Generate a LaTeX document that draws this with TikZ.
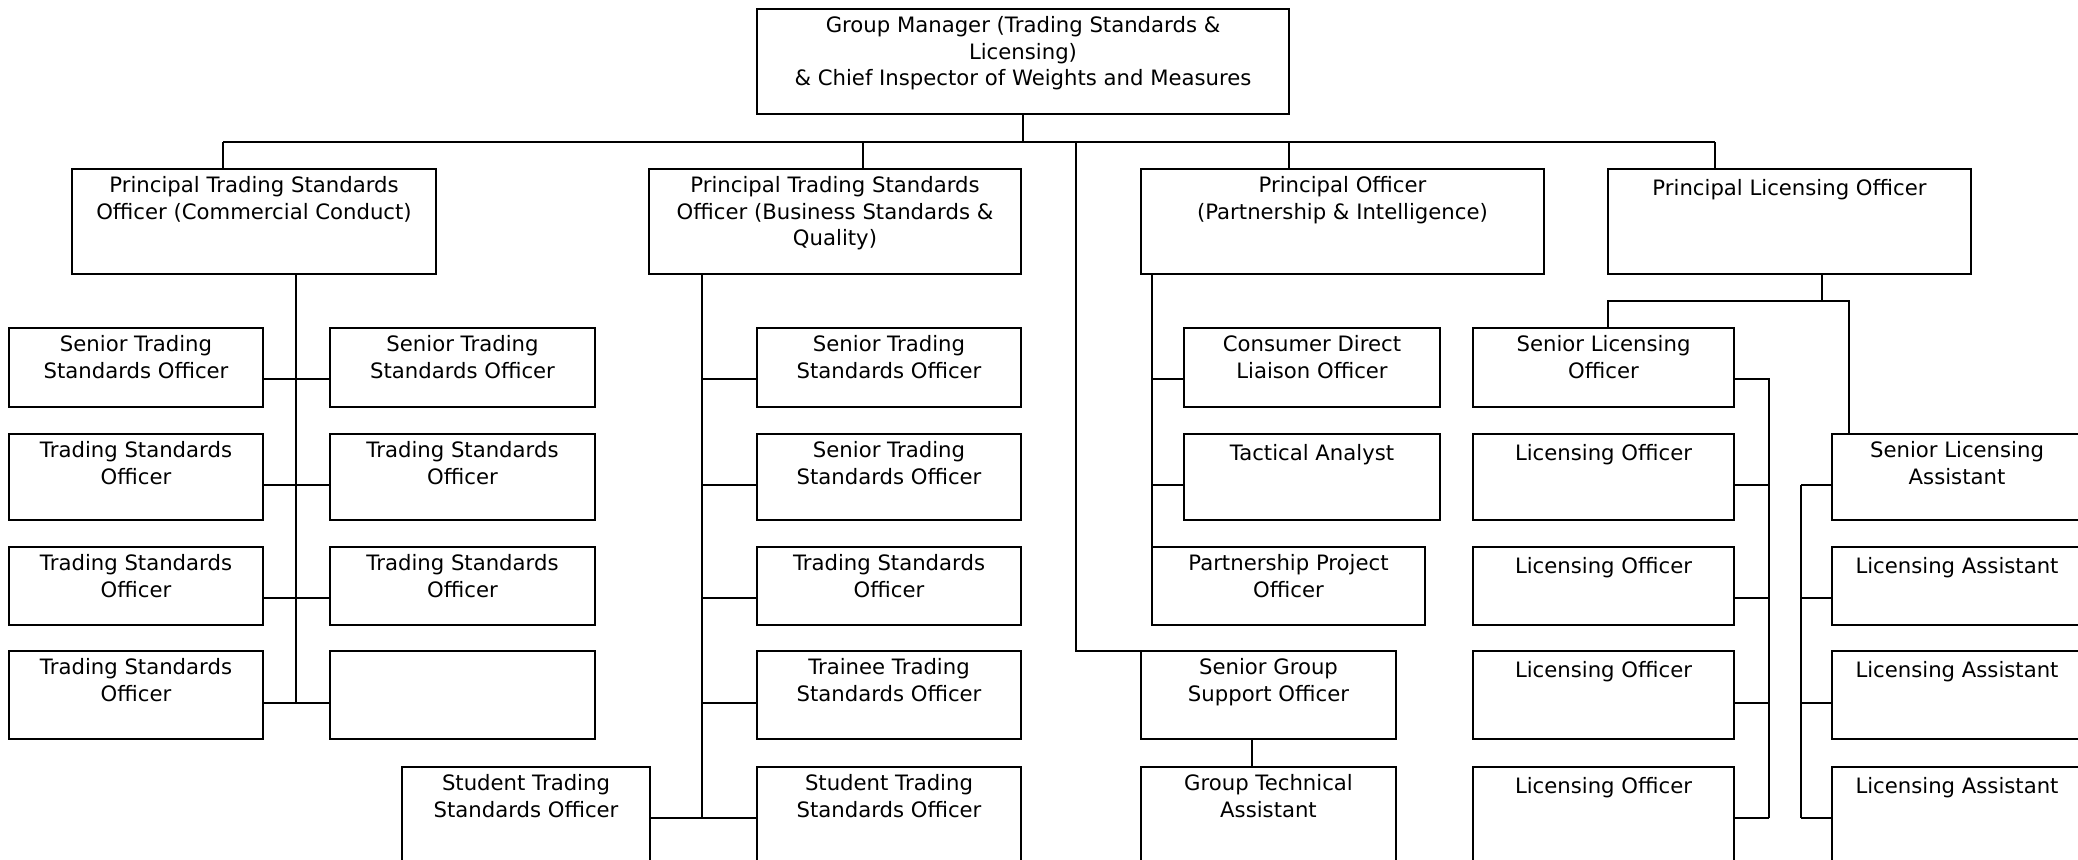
\documentclass[tikz,border=0pt]{standalone}
\usepackage{fontspec}
\setmainfont{DejaVu Sans}
\usetikzlibrary{fit}
\tikzset{
  boxst/.style={draw, line width=1pt, inner sep=0pt, outer sep=0pt},
  txt/.style={align=center, inner sep=0pt, font=\fontsize{10.6}{13.25}\selectfont, execute at begin node=\strut},
  ln/.style={line width=1pt},
}
\newcommand\orgbox[6]{%
  \node[boxst, fit={(#2,#3)(#4,#5)}] (#1) {};
  \node[txt, anchor=north] (#1t) at ([yshift=-3.6pt]#1.north) {#6};}
\newcommand\orgempty[5]{%
  \node[boxst, fit={(#2,#3)(#4,#5)}] (#1) {};}
\begin{document}
\begin{tikzpicture}[x=0.5pt, y=-0.5pt]
\useasboundingbox (0,0) rectangle (2078,859);
\clip (0,0) rectangle (2078,859);
\fill[white] (0,0) rectangle (2078,859);
% rows of connectors
\coordinate (r1) at (0,379);
\coordinate (r2) at (0,485);
\coordinate (r3) at (0,598);
\coordinate (r4) at (0,703);
\coordinate (r5) at (0,818);
% top level
\orgbox{gm}{757}{9}{1289}{114}{Group Manager (Trading Standards \&\\Licensing)\\\& Chief Inspector of Weights and Measures}
\orgbox{cc}{72}{169}{436}{274}{Principal Trading Standards\\Officer (Commercial Conduct)}
\orgbox{bsq}{649}{169}{1021}{274}{Principal Trading Standards\\Officer (Business Standards \&\\Quality)}
\orgbox{po}{1141}{169}{1544}{274}{Principal Officer\\(Partnership \& Intelligence)}
\orgbox{plo}{1608}{169}{1971}{274}{Principal Licensing Officer}
% commercial conduct
\orgbox{a1}{9}{328}{263}{407}{Senior Trading\\Standards Officer}
\orgbox{b1}{330}{328}{595}{407}{Senior Trading\\Standards Officer}
\orgbox{a2}{9}{434}{263}{520}{Trading Standards\\Officer}
\orgbox{b2}{330}{434}{595}{520}{Trading Standards\\Officer}
\orgbox{a3}{9}{547}{263}{625}{Trading Standards\\Officer}
\orgbox{b3}{330}{547}{595}{625}{Trading Standards\\Officer}
\orgbox{a4}{9}{651}{263}{739}{Trading Standards\\Officer}
\orgempty{b4}{330}{651}{595}{739}
% business standards
\orgbox{c1}{757}{328}{1021}{407}{Senior Trading\\Standards Officer}
\orgbox{c2}{757}{434}{1021}{520}{Senior Trading\\Standards Officer}
\orgbox{c3}{757}{547}{1021}{625}{Trading Standards\\Officer}
\orgbox{c4}{757}{651}{1021}{739}{Trainee Trading\\Standards Officer}
\orgbox{c5}{757}{767}{1021}{900}{Student Trading\\Standards Officer}
\orgbox{s5}{402}{767}{650}{900}{Student Trading\\Standards Officer}
% partnership
\orgbox{p1}{1184}{328}{1440}{407}{Consumer Direct\\Liaison Officer}
\orgbox{p2}{1184}{434}{1440}{520}{Tactical Analyst}
\orgbox{pp}{1152}{547}{1425}{625}{Partnership Project\\Officer}
\orgbox{sg}{1141}{651}{1396}{739}{Senior Group\\Support Officer}
\orgbox{gt}{1141}{767}{1396}{900}{Group Technical\\Assistant}
% licensing
\orgbox{slo}{1473}{328}{1734}{407}{Senior Licensing\\Officer}
\orgbox{lo1}{1473}{434}{1734}{520}{Licensing Officer}
\orgbox{lo2}{1473}{547}{1734}{625}{Licensing Officer}
\orgbox{lo3}{1473}{651}{1734}{739}{Licensing Officer}
\orgbox{lo4}{1473}{767}{1734}{900}{Licensing Officer}
\orgbox{sla}{1832}{434}{2082}{520}{Senior Licensing\\Assistant}
\orgbox{la1}{1832}{547}{2082}{625}{Licensing Assistant}
\orgbox{la2}{1832}{651}{2082}{739}{Licensing Assistant}
\orgbox{la3}{1832}{767}{2082}{900}{Licensing Assistant}
% top bus
\coordinate (busL) at (223,142);
\coordinate (busR) at (1715,142);
\coordinate (d2) at (863,142);
\coordinate (d3) at (1076,142);
\coordinate (d4) at (1289,142);
\coordinate (sgc) at (1076,651);
\draw[ln] (gm.south) -- (gm.south |- busL);
\draw[ln] (busL) -- (busR);
\draw[ln] (busL) -- (busL |- cc.north);
\draw[ln] (d2) -- (d2 |- bsq.north);
\draw[ln] (d3) -- (sgc) -- (sg.north west);
\draw[ln] (d4) -- (d4 |- po.north);
\draw[ln] (busR) -- (busR |- plo.north);
% commercial conduct trunk
\coordinate (ccx) at (296,0);
\draw[ln] (ccx |- cc.south) -- (ccx |- r4);
\draw[ln] (a1.east |- r1) -- (b1.west |- r1);
\draw[ln] (a2.east |- r2) -- (b2.west |- r2);
\draw[ln] (a3.east |- r3) -- (b3.west |- r3);
\draw[ln] (a4.east |- r4) -- (b4.west |- r4);
% business standards trunk
\coordinate (bsx) at (702,0);
\draw[ln] (bsx |- bsq.south) -- (bsx |- r5);
\draw[ln] (bsx |- r1) -- (c1.west |- r1);
\draw[ln] (bsx |- r2) -- (c2.west |- r2);
\draw[ln] (bsx |- r3) -- (c3.west |- r3);
\draw[ln] (bsx |- r4) -- (c4.west |- r4);
\draw[ln] (s5.east |- r5) -- (c5.west |- r5);
% partnership trunk
\coordinate (pox) at (1152,0);
\draw[ln] (pox |- po.south) -- (pp.north west);
\draw[ln] (pox |- r1) -- (p1.west |- r1);
\draw[ln] (pox |- r2) -- (p2.west |- r2);
\coordinate (sgx) at (1252,0);
\draw[ln] (sgx |- sg.south) -- (sgx |- gt.north);
% licensing
\coordinate (plx) at (1822,0);
\coordinate (plL) at (1608,301);
\coordinate (plR) at (1849,301);
\draw[ln] (plx |- plo.south) -- (plx |- plL);
\draw[ln] (plL |- slo.north) -- (plL) -- (plR) -- (plR |- sla.north);
\coordinate (lox) at (1769,0);
\draw[ln] (slo.east |- r1) -- (lox |- r1) -- (lox |- r5);
\draw[ln] (lo1.east |- r2) -- (lox |- r2);
\draw[ln] (lo2.east |- r3) -- (lox |- r3);
\draw[ln] (lo3.east |- r4) -- (lox |- r4);
\draw[ln] (lo4.east |- r5) -- (lox |- r5);
\coordinate (lax) at (1801,0);
\draw[ln] (lax |- r2) -- (lax |- r5);
\draw[ln] (lax |- r2) -- (sla.west |- r2);
\draw[ln] (lax |- r3) -- (la1.west |- r3);
\draw[ln] (lax |- r4) -- (la2.west |- r4);
\draw[ln] (lax |- r5) -- (la3.west |- r5);
\end{tikzpicture}
\end{document}
